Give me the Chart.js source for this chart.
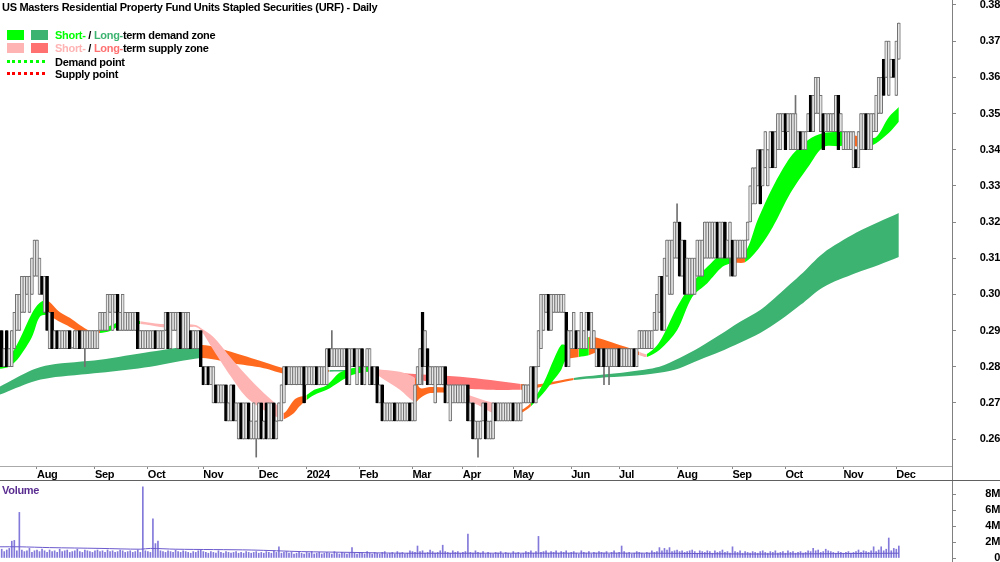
<!DOCTYPE html>
<html>
<head>
<meta charset="utf-8">
<title>URF - Daily</title>
<script src="https://cdn.jsdelivr.net/npm/chart.js@4.4.1/dist/chart.umd.min.js"></script>
<style>
  body { margin: 0; background: #fff; }
  #wrap { position: relative; width: 1000px; height: 562px; overflow: hidden;
    font-family: 'Liberation Sans', Arial, sans-serif;
    font-weight: bold; font-size: 11px; color: #000; letter-spacing: -0.3px; }
  canvas { position: absolute; left: 0; }
  #price { top: 0; }
  #vol { top: 480px; }
  .txt { position: absolute; white-space: nowrap; line-height: 12px; }
  .sw { position: absolute; width: 17px; height: 10px; }
  .dot { position: absolute; width: 38px; height: 0; border-top: 3px dotted; }
  .ln { position: absolute; background: #808080; }
</style>
</head>
<body>
<div id="wrap">
  <canvas id="price" width="1000" height="480"></canvas>
  <canvas id="vol" width="1000" height="82"></canvas>

  <div class="txt" style="left:2px;top:1px;">US Masters Residential Property Fund Units Stapled Securities (URF) - Daily</div>

  <div class="sw" style="left:7px;top:30px;background:#00ff00"></div>
  <div class="sw" style="left:31px;top:30px;background:#3cb371"></div>
  <div class="txt" style="left:55px;top:29px;"><span style="color:#00ff00">Short-</span> / <span style="color:#3cb371">Long-</span>term demand zone</div>
  <div class="sw" style="left:7px;top:43px;background:#ffb4b4"></div>
  <div class="sw" style="left:31px;top:43px;background:#ff7070"></div>
  <div class="txt" style="left:55px;top:42px;"><span style="color:#ffb4b4">Short-</span> / <span style="color:#ff7070">Long-</span>term supply zone</div>
  <div class="dot" style="left:7px;top:60px;border-color:#00ff00"></div>
  <div class="txt" style="left:55px;top:56px;">Demand point</div>
  <div class="dot" style="left:7px;top:72px;border-color:#ff0000"></div>
  <div class="txt" style="left:55px;top:68px;">Supply point</div>

  <div class="txt" style="left:2px;top:484px;color:#5a2d91;">Volume</div>

  <div class="ln" style="left:952px;top:0;width:1px;height:562px;"></div>
  <div class="ln" style="left:0;top:480px;width:1000px;height:1px;background:#606060;"></div>
</div>

<script>
// daily bars, prices in thousandths of a dollar
const open = [
  280,290,280,290,280,280,285,290,290,295, 295,300,295,300,305,305,300,305,295,305,
  285,295,285,290,285,285,285,285,290,285, 285,285,290,285,285,285,285,285,285,285,
  290,290,290,290,295,290,295,300,290,290, 290,290,290,290,290,295,285,285,285,285,
  285,285,290,285,285,285,290,295,285,290, 290,285,295,285,285,285,290,285,285,285,
  290,280,275,280,275,270,275,270,270,270, 275,265,265,275,265,260,270,260,260,270,
  260,260,260,260,270,260,270,260,260,270, 260,265,265,270,280,275,275,275,275,275,
  275,280,275,275,275,275,280,275,275,275, 275,285,280,280,280,280,280,280,285,275,
  280,285,275,280,285,275,280,275,280,275, 280,270,275,265,265,265,265,270,265,265,
  265,265,265,270,265,265,275,275,295,280, 285,275,275,270,275,275,275,280,270,265,
  270,270,270,270,270,270,275,265,270,260, 260,260,265,270,260,260,260,270,265,265,
  265,265,265,265,270,265,265,265,270,270, 270,270,280,270,280,285,290,295,300,290,
  295,295,295,295,295,295,280,285,285,290, 285,285,285,285,295,285,285,280,285,280,
  285,280,280,280,280,280,285,280,280,280, 280,280,285,280,285,285,285,285,285,285,
  290,290,295,305,290,305,300,300,310,310, 320,305,315,300,300,300,300,305,305,305,
  310,310,310,310,310,320,310,310,320,310, 310,315,305,310,310,310,310,315,320,325,
  325,330,340,330,335,330,335,345,335,340, 340,345,350,345,340,340,340,340,345,340,
  340,345,355,345,350,350,345,350,345,345, 345,345,345,355,345,340,340,340,340,335,
  340,335,340,340,350,340,340,345,345,350, 350,365,360,355,360,365,355,365
];
const high = [
  290,290,285,290,285,290,295,300,300,305, 305,305,305,310,315,315,310,305,305,305,
  295,295,290,290,290,290,290,290,290,285, 290,290,290,290,290,290,290,290,290,290,
  295,295,295,300,300,300,300,300,295,300, 295,295,295,295,295,295,290,290,290,290,
  290,290,290,290,290,290,295,295,295,295, 295,295,295,295,295,295,290,290,290,290,
  290,280,280,280,280,280,275,275,275,275, 275,270,275,275,270,270,270,270,270,270,
  265,270,265,270,270,265,270,270,270,270, 265,270,275,280,280,280,280,280,280,280,
  280,280,280,280,280,280,280,280,280,280, 285,285,290,285,285,285,285,285,285,285,
  285,285,285,285,285,280,285,285,280,280, 280,275,275,270,270,270,270,270,270,270,
  270,270,270,270,270,275,280,285,295,290, 285,280,280,280,280,280,280,280,275,275,
  275,275,275,275,275,275,275,270,270,265, 265,265,270,270,265,265,270,270,270,270,
  270,270,270,270,270,270,270,270,275,275, 275,280,280,280,290,300,300,300,300,300,
  300,300,300,300,300,295,290,290,295,290, 290,295,290,295,295,295,290,285,285,285,
  285,285,285,285,285,285,285,285,285,285, 285,285,285,285,290,290,290,290,290,290,
  295,300,305,305,310,315,315,315,320,325, 320,315,315,310,310,310,310,315,315,315,
  320,320,320,320,320,320,320,320,320,315, 320,315,315,315,315,315,315,320,330,335,
  335,340,340,340,345,340,345,345,345,350, 350,350,350,350,350,350,355,345,345,345,
  345,350,355,355,360,360,355,350,350,350, 350,350,355,355,350,345,345,345,345,345,
  340,345,350,350,350,350,350,350,355,360, 360,365,370,370,365,365,370,375
];
const low = [
  280,280,280,280,280,280,285,290,290,295, 295,300,295,300,305,305,300,300,295,290,
  285,285,285,285,285,285,285,285,285,285, 285,285,285,285,280,285,285,285,285,285,
  290,290,290,290,295,290,295,290,290,290, 290,290,290,290,290,285,285,285,285,285,
  285,285,285,285,285,285,290,285,285,290, 290,285,285,285,285,285,285,285,285,285,
  280,275,275,275,275,270,270,270,270,270, 265,265,265,265,265,260,260,260,260,260,
  260,260,255,260,260,260,260,260,260,260, 260,265,265,270,275,275,275,275,275,275,
  275,270,275,275,275,275,275,275,275,275, 275,280,280,280,280,280,280,280,275,275,
  280,280,275,280,275,275,280,275,275,275, 270,270,265,265,265,265,265,265,265,265,
  265,265,265,265,265,265,275,275,275,280, 275,275,275,270,275,275,275,270,270,265,
  270,270,270,270,270,270,265,265,260,260, 255,260,265,260,260,260,260,265,265,265,
  265,265,265,265,265,265,265,265,270,270, 270,270,270,270,280,285,290,295,290,290,
  295,295,295,295,295,280,280,285,285,285, 285,285,285,285,290,285,285,280,280,280,
  275,280,275,280,280,280,280,280,280,280, 280,280,280,280,285,285,285,285,285,285,
  290,290,295,290,290,305,300,300,310,310, 305,305,300,300,300,300,300,305,305,305,
  310,310,310,310,310,310,310,310,310,310, 305,305,305,310,310,310,310,315,320,325,
  325,330,325,330,335,330,335,335,335,340, 340,345,340,345,340,340,340,340,340,340,
  340,345,345,345,350,350,345,340,345,345, 345,345,345,340,345,340,340,340,340,335,
  335,335,340,340,340,340,340,345,345,350, 350,355,360,355,360,360,355,365
];
const close = [
  290,280,285,280,285,290,295,300,300,305, 305,305,305,310,315,315,310,300,305,290,
  295,285,290,285,290,290,290,290,285,285, 290,290,285,290,290,290,290,290,290,290,
  295,295,295,300,300,300,300,290,295,300, 295,295,295,295,295,285,290,290,290,290,
  290,290,285,290,290,290,295,285,295,295, 295,295,285,295,295,295,285,290,290,290,
  280,275,280,275,280,280,270,275,275,275, 265,270,275,265,270,270,260,270,270,260,
  265,270,265,270,260,265,260,270,270,260, 265,270,275,280,275,280,280,280,280,280,
  280,270,280,280,280,280,275,280,280,280, 285,280,285,285,285,285,285,285,275,285,
  285,280,285,285,275,280,285,285,275,280, 270,275,265,270,270,270,270,265,270,270,
  270,270,270,265,270,275,280,285,280,290, 275,280,280,280,280,280,280,270,275,275,
  275,275,275,275,275,275,265,270,260,265, 265,265,270,260,265,265,270,265,270,270,
  270,270,270,270,265,270,270,270,275,275, 275,280,270,280,290,300,300,300,290,300,
  300,300,300,300,300,280,290,290,295,285, 290,295,290,295,290,295,290,285,280,285,
  280,285,285,285,285,285,280,285,285,285, 285,285,280,285,290,290,290,290,290,290,
  295,300,305,290,310,315,315,315,320,320, 305,315,300,310,310,310,310,315,315,315,
  320,320,320,320,320,310,320,320,310,315, 320,305,315,315,315,315,315,320,330,335,
  335,340,325,340,345,340,345,335,345,350, 350,350,340,350,350,350,350,345,340,345,
  345,350,345,355,360,360,355,340,350,350, 350,350,355,340,350,345,345,345,345,345,
  335,345,350,350,340,350,350,350,355,360, 360,355,370,370,365,360,370,375
];
// volume per bar, in 100k shares
const volume = [
  9,11,8,10,12,21,22,9,57,10, 8,9,12,7,9,10,8,11,9,7,
  10,8,9,7,11,8,9,10,7,8, 9,11,8,7,10,9,8,7,9,10,
  8,9,7,10,8,9,7,8,10,9, 7,8,9,7,8,10,7,89,9,8,
  7,49,18,21,9,8,7,9,8,7, 10,8,7,9,8,7,6,8,7,9,
  10,8,7,6,8,7,6,9,7,6, 8,7,6,7,8,6,7,6,8,7,
  6,7,8,6,7,6,8,7,6,9, 7,14,6,7,8,6,7,5,6,7,
  6,5,7,6,8,5,6,7,5,6, 7,6,5,8,6,5,7,6,5,6,
  13,6,5,7,6,5,8,6,5,7, 6,5,7,8,5,6,7,5,8,6,
  7,5,6,9,8,7,15,8,9,6, 7,10,8,6,7,9,16,8,7,6,
  9,7,8,6,7,8,30,7,6,9, 7,6,8,5,7,6,5,7,6,8,
  5,7,6,5,8,6,7,5,6,8, 7,9,6,8,27,7,8,9,6,8,
  7,9,6,8,7,9,6,7,8,6, 5,9,7,6,8,5,7,6,8,7,
  6,8,5,7,9,6,7,15,8,6, 7,5,6,8,7,6,5,7,6,9,
  7,8,13,9,12,10,13,8,9,10, 8,9,7,8,9,10,8,6,9,8,
  7,9,8,6,9,7,8,10,7,8, 6,14,8,7,9,6,8,7,6,8,
  7,6,8,9,7,6,8,7,9,6, 7,8,6,9,7,8,6,7,8,6,
  7,9,8,12,9,10,7,8,11,9, 8,7,6,8,7,6,7,8,6,7,
  8,10,7,9,8,7,9,14,8,10, 14,9,11,25,9,12,11,15
];

// short-term zone edges (bar index, thousandths) and zone state G/O/P
const stIdx = [0,4,8,13,16,19,24,28,32,36,40,44,48,52,56,64,72,78,80,85,92,98,105,111,113,117,119,122,125,130,135,140,146,148,153,159,165,167,171,179,183,190,196,203,207,211,216,220,223,225,230,234,238,245,250,254,257,262,269,275,281,287,291,296,301,307,314,321,327,334,336,344,348,353,357];
const stTop = [280.2,282.7,287.4,294.8,297.6,298.4,295.1,293.5,291.5,289.9,290.1,291.3,292.6,292.9,292.6,291.8,291.8,291.5,290.7,288.2,282.4,277.7,272.7,268.9,267.2,270.8,271.6,272.2,273.6,274.9,278.3,279.6,280.0,279.6,279.1,278.6,276.9,274.1,274.4,274.1,273.0,271.3,270.0,268.6,268.0,270.0,275.5,281.9,286.0,286.0,286.0,288.2,287.9,286.3,285.2,284.1,283.5,286.8,296.5,303.1,307.6,311.4,311.7,311.7,320.6,329.7,338.0,342.7,344.6,344.9,344.6,343.2,343.5,349.0,351.8];
const stBot = [279.4,280.0,282.7,288.2,293.7,294.3,292.4,291.0,289.6,289.3,289.3,289.9,291.3,291.5,291.8,291.0,290.7,291.0,290.1,284.6,277.2,271.6,268.0,265.8,265.5,267.2,268.9,270.8,272.2,273.6,275.8,277.7,278.6,278.6,276.3,273.6,270.2,271.3,272.7,272.7,271.3,269.4,267.2,266.6,267.2,269.1,272.7,276.3,279.1,281.9,282.7,283.2,284.1,284.1,283.8,283.2,282.7,284.6,290.1,299.3,303.1,307.6,308.7,308.9,312.3,318.6,328.0,335.2,340.7,341.0,341.3,340.7,341.8,344.6,347.7];
const stZone = 'GGGGGOOOOOGGGGPPPPPPPPPPOOOGGGGGGPPPOOOOPPPPOGGGGOGOOOOPGGGGGGOGGGGGGGOGGGG'.split('');

// long-term zone edges
const ltIdx = [0,13,20,40,60,80,86,92,105,114,123,131,147,151,159,171,183,195,207,211,217,228,238,250,262,270,278,286,294,302,310,318,327,340,349,357];
const ltTop = [274.4,279.1,280.5,281.9,284.1,286.0,285.4,284.1,281.3,279.4,279.1,279.1,279.1,279.1,278.3,277.7,277.2,276.3,275.2,274.9,275.5,276.9,277.7,278.6,280.0,282.4,285.4,288.8,292.4,295.7,300.4,305.4,311.4,317.0,320.0,322.5];
const ltBot = [272.2,275.8,276.9,278.3,280.0,282.4,281.9,281.0,279.6,278.0,278.3,278.6,278.6,278.3,277.2,275.8,274.1,273.6,273.6,273.8,274.7,276.3,276.9,277.4,278.3,279.6,281.9,284.1,286.6,289.3,292.9,297.1,302.0,305.9,308.1,310.3];
const ltZone = 'GGGGGOOOOOOGOORRRROOOGGGGGGGGGGGGGGG'.split('');

// volume average line (bar index, millions)
const vmaIdx = [0,8,20,40,56,60,70,100,120,140,160,200,260,300,357];
const vmaVal = [1.4,1.4,1.3,1.2,1.1,1.2,1.1,1.0,0.8,0.7,0.6,0.6,0.6,0.5,0.6];

const monthIdx = [15,38,59,81,103,122,143,164,184,204,227,246,269,291,312,335,356];
const monthLbl = ['Aug','Sep','Oct','Nov','Dec','2024','Feb','Mar','Apr','May','Jun','Jul','Aug','Sep','Oct','Nov','Dec'];
const priceTicks = [0.26,0.27,0.28,0.29,0.30,0.31,0.32,0.33,0.34,0.35,0.36,0.37,0.38];
const volTicks = [0,2,4,6,8];

const SHORT = { G: '#00ff00', O: '#ff6a1f', P: '#ffb4b4' };
const LONG = { G: '#3cb371', O: '#ff6a1f', R: '#ff7474' };
const FONT = { family: "'Liberation Sans', Arial, sans-serif", size: 11, weight: 'bold', lineHeight: 1 };
const X_MIN = 0.32, X_MAX = 378.1;

const isDown = i => close[i] < open[i];

// keep the axis label padding from shrinking the plot area
function fixAxis(width) {
  return s => {
    if (width) s.width = width; else s.height = 14;
    s.paddingTop = 0; s.paddingBottom = 0; s.paddingLeft = 0; s.paddingRight = 0;
  };
}

function edge(idx, vals, extra) {
  return Object.assign({
    type: 'line',
    data: idx.map((x, k) => ({ x: x, y: vals[k] / 1000 })),
    borderWidth: 0,
    borderColor: 'transparent',
    pointRadius: 0,
    tension: 0.3,
    fill: false
  }, extra);
}

new Chart(document.getElementById('price'), {
  type: 'bar',
  data: {
    datasets: [
      edge(ltIdx, ltTop, { fill: '+1', order: 5, backgroundColor: LONG.G,
        segment: { backgroundColor: c => LONG[ltZone[c.p0DataIndex]] } }),
      edge(ltIdx, ltBot, { order: 5 }),
      edge(stIdx, stTop, { fill: '+1', order: 4, backgroundColor: SHORT.G,
        segment: { backgroundColor: c => SHORT[stZone[c.p0DataIndex]] } }),
      edge(stIdx, stBot, { order: 4 }),
      {
        type: 'bar',
        data: open.map((_, i) => ({ x: i, y: [low[i] / 1000, high[i] / 1000] })),
        backgroundColor: '#707070',
        barThickness: 1,
        minBarLength: 1,
        grouped: false,
        order: 2
      },
      {
        type: 'bar',
        data: open.map((_, i) => ({ x: i, y: [Math.min(open[i], close[i]) / 1000, Math.max(open[i], close[i]) / 1000] })),
        backgroundColor: c => isDown(c.dataIndex) ? '#000' : '#e6e6e6',
        borderColor: c => isDown(c.dataIndex) ? '#000' : '#727272',
        borderWidth: 1,
        borderSkipped: false,
        barThickness: 3,
        minBarLength: 1,
        grouped: false,
        order: 1
      }
    ]
  },
  options: {
    responsive: false,
    animation: false,
    events: [],
    devicePixelRatio: 1,
    layout: { padding: 0, autoPadding: false },
    plugins: { legend: { display: false }, tooltip: { enabled: false } },
    scales: {
      x: {
        type: 'linear',
        min: X_MIN, max: X_MAX,
        offset: false,
        grid: { drawOnChartArea: false, offset: false, tickLength: 3, color: '#888' },
        border: { color: '#aaa' },
        afterBuildTicks: s => { s.ticks = monthIdx.map(v => ({ value: v })); },
        afterFit: fixAxis(0),
        ticks: {
          autoSkip: false, maxRotation: 0, align: 'start', padding: 0,
          color: '#000', font: FONT,
          callback: (v, k) => monthLbl[k]
        }
      },
      y: {
        position: 'right',
        min: 0.252547, max: 0.381382,
        grid: { drawOnChartArea: false, tickLength: 4, color: '#888' },
        border: { display: false },
        afterBuildTicks: s => { s.ticks = priceTicks.map(v => ({ value: v })); },
        afterFit: fixAxis(48),
        ticks: {
          crossAlign: 'far', padding: 22, color: '#000', font: FONT,
          callback: v => v.toFixed(2)
        }
      }
    }
  }
});

new Chart(document.getElementById('vol'), {
  type: 'bar',
  data: {
    datasets: [
      {
        type: 'line',
        data: vmaIdx.map((x, k) => ({ x: x, y: vmaVal[k] })),
        borderColor: '#6a5acd',
        borderWidth: 1,
        pointRadius: 0,
        tension: 0.3,
        fill: false,
        order: 1
      },
      {
        type: 'bar',
        data: volume.map((v, i) => ({ x: i, y: v / 10 })),
        backgroundColor: '#8379da',
        barThickness: 1,
        grouped: false,
        order: 2
      }
    ]
  },
  options: {
    responsive: false,
    animation: false,
    events: [],
    devicePixelRatio: 1,
    layout: { padding: 0, autoPadding: false },
    plugins: { legend: { display: false }, tooltip: { enabled: false } },
    scales: {
      x: { type: 'linear', min: X_MIN, max: X_MAX, offset: false, display: false },
      y: {
        position: 'right',
        min: -0.5, max: 9.75,
        grid: { drawOnChartArea: false, tickLength: 4, color: '#888' },
        border: { display: false },
        afterBuildTicks: s => { s.ticks = volTicks.map(v => ({ value: v })); },
        afterFit: fixAxis(48),
        ticks: {
          crossAlign: 'far', padding: 26, color: '#000', font: FONT,
          callback: v => v === 0 ? '0' : v + 'M'
        }
      }
    }
  }
});
</script>
</body>
</html>
